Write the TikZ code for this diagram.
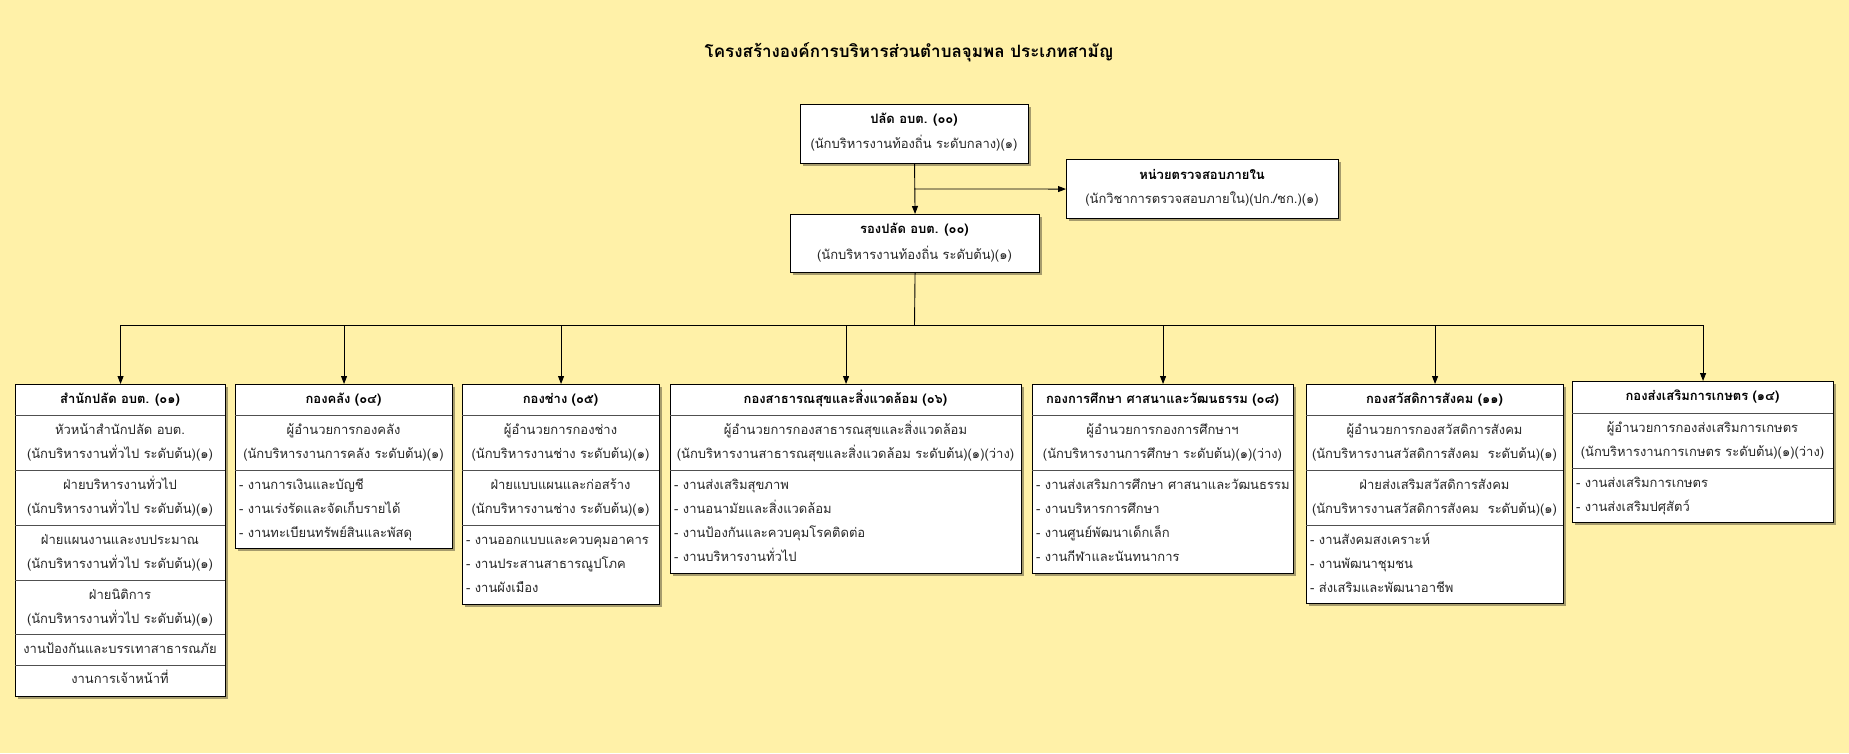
\documentclass[tikz,border=0pt]{standalone}
\usepackage{fontspec}
\setmainfont[Script=Thai]{Loma}
\usetikzlibrary{shadows,arrows.meta}
\definecolor{bgc}{HTML}{FFF1A8}
\definecolor{divc}{HTML}{505050}
\newcounter{tlc}
\newcommand\tline[3][]{\stepcounter{tlc}\node[tx,#1] (t\arabic{tlc}) at (#2) {#3};}
\begin{document}
\begin{tikzpicture}[x=1pt,y=-1pt,
  tx/.style={font=\fontsize{13}{15}\selectfont, inner sep=0pt, text height=10pt, text depth=3pt, text=black!85},
  hd/.style={font=\fontsize{13}{15}\selectfont\bfseries, text=black},
  bl/.style={anchor=west},
  obox/.style={draw=black, line width=1.1pt, fill=white, anchor=north west, inner sep=0pt,
    drop shadow={shadow xshift=2.5pt, shadow yshift=-2.5pt, opacity=0.35, fill=black}},
  dv/.style={draw=divc, line width=1pt},
  arr/.style={draw=black, line width=0.9pt, -{Triangle[length=8pt,width=6pt]}},
  ln/.style={draw=black, line width=0.9pt},
]
\fill[bgc] (0,0) rectangle (1849,753);
\useasboundingbox (0,0) rectangle (1849,753);

% title
\node[font=\fontsize{17}{20}\selectfont\bfseries, inner sep=0pt] (title) at (909,52) {โครงสร้างองค์การบริหารส่วนตำบลจุมพล ประเภทสามัญ};

% top boxes
\node[obox, minimum width=228pt, minimum height=59pt] (top) at (800,104) {};
\tline[hd]{914,120}{ปลัด อบต. (๐๐)}
\tline{914,145}{(นักบริหารงานท้องถิ่น ระดับกลาง)(๑)}

\node[obox, minimum width=272pt, minimum height=59pt] (aud) at (1066,159) {};
\tline[hd]{1202,176}{หน่วยตรวจสอบภายใน}
\tline{1202,200}{(นักวิชาการตรวจสอบภายใน)(ปก./ชก.)(๑)}

\node[obox, minimum width=249pt, minimum height=58pt] (dep) at (790,214) {};
\tline[hd]{914.5,230}{รองปลัด อบต. (๐๐)}
\tline{914.5,256}{(นักบริหารงานท้องถิ่น ระดับต้น)(๑)}

% box 1
\node[obox, minimum width=210pt, minimum height=312pt] (b1) at (15,384) {};
\draw[dv] (15,415) -- (225,415);
\draw[dv] (15,470) -- (225,470);
\draw[dv] (15,525) -- (225,525);
\draw[dv] (15,580) -- (225,580);
\draw[dv] (15,634) -- (225,634);
\draw[dv] (15,665) -- (225,665);
\tline[hd]{120,400}{สำนักปลัด อบต. (๐๑)}
\tline{120,431}{หัวหน้าสำนักปลัด อบต.}
\tline{120,455}{(นักบริหารงานทั่วไป ระดับต้น)(๑)}
\tline{120,486}{ฝ่ายบริหารงานทั่วไป}
\tline{120,510}{(นักบริหารงานทั่วไป ระดับต้น)(๑)}
\tline{120,541}{ฝ่ายแผนงานและงบประมาณ}
\tline{120,565}{(นักบริหารงานทั่วไป ระดับต้น)(๑)}
\tline{120,596}{ฝ่ายนิติการ}
\tline{120,620}{(นักบริหารงานทั่วไป ระดับต้น)(๑)}
\tline{120,650}{งานป้องกันและบรรเทาสาธารณภัย}
\tline{120,680}{งานการเจ้าหน้าที่}

% box 2
\node[obox, minimum width=217pt, minimum height=164pt] (b2) at (235,384) {};
\draw[dv] (235,415) -- (452,415);
\draw[dv] (235,470) -- (452,470);
\tline[hd]{343.5,400}{กองคลัง (๐๔)}
\tline{343.5,431}{ผู้อำนวยการกองคลัง}
\tline{343.5,455}{(นักบริหารงานการคลัง ระดับต้น)(๑)}
\tline[bl]{239,486}{- งานการเงินและบัญชี}
\tline[bl]{239,510}{- งานเร่งรัดและจัดเก็บรายได้}
\tline[bl]{239,534}{- งานทะเบียนทรัพย์สินและพัสดุ}

% box 3
\node[obox, minimum width=197pt, minimum height=220pt] (b3) at (462,384) {};
\draw[dv] (462,415) -- (659,415);
\draw[dv] (462,470) -- (659,470);
\draw[dv] (462,525) -- (659,525);
\tline[hd]{560.5,400}{กองช่าง (๐๕)}
\tline{560.5,431}{ผู้อำนวยการกองช่าง}
\tline{560.5,455}{(นักบริหารงานช่าง ระดับต้น)(๑)}
\tline{560.5,486}{ฝ่ายแบบแผนและก่อสร้าง}
\tline{560.5,510}{(นักบริหารงานช่าง ระดับต้น)(๑)}
\tline[bl]{466,541}{- งานออกแบบและควบคุมอาคาร}
\tline[bl]{466,565}{- งานประสานสาธารณูปโภค}
\tline[bl]{466,589}{- งานผังเมือง}

% box 4
\node[obox, minimum width=351pt, minimum height=189pt] (b4) at (670,384) {};
\draw[dv] (670,415) -- (1021,415);
\draw[dv] (670,470) -- (1021,470);
\tline[hd]{845.5,400}{กองสาธารณสุขและสิ่งแวดล้อม (๐๖)}
\tline{845.5,431}{ผู้อำนวยการกองสาธารณสุขและสิ่งแวดล้อม}
\tline{845.5,455}{(นักบริหารงานสาธารณสุขและสิ่งแวดล้อม ระดับต้น)(๑)(ว่าง)}
\tline[bl]{674,486}{- งานส่งเสริมสุขภาพ}
\tline[bl]{674,510}{- งานอนามัยและสิ่งแวดล้อม}
\tline[bl]{674,534}{- งานป้องกันและควบคุมโรคติดต่อ}
\tline[bl]{674,558}{- งานบริหารงานทั่วไป}

% box 5
\node[obox, minimum width=261pt, minimum height=189pt] (b5) at (1032,384) {};
\draw[dv] (1032,415) -- (1293,415);
\draw[dv] (1032,470) -- (1293,470);
\tline[hd]{1162.5,400}{กองการศึกษา ศาสนาและวัฒนธรรม (๐๘)}
\tline{1162.5,431}{ผู้อำนวยการกองการศึกษาฯ}
\tline{1162.5,455}{(นักบริหารงานการศึกษา ระดับต้น)(๑)(ว่าง)}
\tline[bl]{1036,486}{- งานส่งเสริมการศึกษา ศาสนาและวัฒนธรรม}
\tline[bl]{1036,510}{- งานบริหารการศึกษา}
\tline[bl]{1036,534}{- งานศูนย์พัฒนาเด็กเล็ก}
\tline[bl]{1036,558}{- งานกีฬาและนันทนาการ}

% box 6
\node[obox, minimum width=257pt, minimum height=219pt] (b6) at (1306,384) {};
\draw[dv] (1306,415) -- (1563,415);
\draw[dv] (1306,470) -- (1563,470);
\draw[dv] (1306,525) -- (1563,525);
\tline[hd]{1434.5,400}{กองสวัสดิการสังคม (๑๑)}
\tline{1434.5,431}{ผู้อำนวยการกองสวัสดิการสังคม}
\tline{1434.5,455}{(นักบริหารงานสวัสดิการสังคม\ \ ระดับต้น)(๑)}
\tline{1434.5,486}{ฝ่ายส่งเสริมสวัสดิการสังคม}
\tline{1434.5,510}{(นักบริหารงานสวัสดิการสังคม\ \ ระดับต้น)(๑)}
\tline[bl]{1310,541}{- งานสังคมสงเคราะห์}
\tline[bl]{1310,565}{- งานพัฒนาชุมชน}
\tline[bl]{1310,589}{- ส่งเสริมและพัฒนาอาชีพ}

% box 7
\node[obox, minimum width=261pt, minimum height=141pt] (b7) at (1572,381) {};
\draw[dv] (1572,413) -- (1833,413);
\draw[dv] (1572,468) -- (1833,468);
\tline[hd]{1702.5,397}{กองส่งเสริมการเกษตร (๑๔)}
\tline{1702.5,429}{ผู้อำนวยการกองส่งเสริมการเกษตร}
\tline{1702.5,453}{(นักบริหารงานการเกษตร ระดับต้น)(๑)(ว่าง)}
\tline[bl]{1576,484}{- งานส่งเสริมการเกษตร}
\tline[bl]{1576,508}{- งานส่งเสริมปศุสัตว์}

% connectors
\draw[arr] (top.south) -- (dep.north);
\coordinate (br) at (914,189);
\draw[arr] (br) -- (aud.west);
\coordinate (bus) at (914.5,325);
\draw[ln] (dep.south) -- (bus);
\foreach \b in {b1,b2,b3,b4,b5,b6,b7} \draw[arr] (bus) -| (\b.north);
\end{tikzpicture}
\end{document}
